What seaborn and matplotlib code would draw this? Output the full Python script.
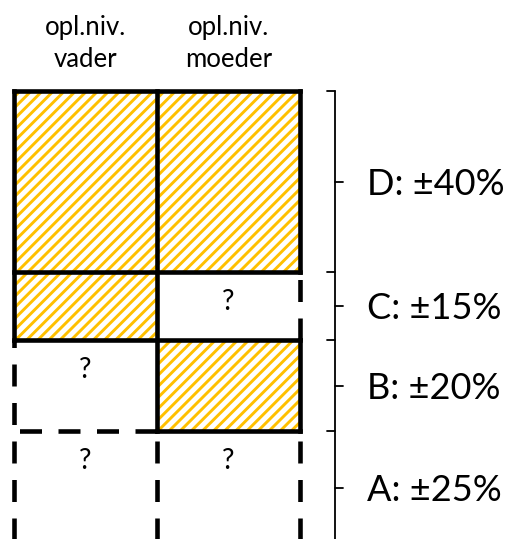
import numpy as np
import pandas as pd
import matplotlib
matplotlib.use("Agg")
import matplotlib.pyplot as plt
import seaborn as sns

# ---- data ----
columns = ["vader", "moeder"]
header_line1 = ["opl.niv.", "opl.niv."]
levels = ["D", "C", "B", "A"]
shares = [40, 15, 20, 25]
known_vader = [1, 1, 0, 0]
known_moeder = [1, 0, 1, 0]
unknown_mark = "?"

# ---- style ----
sns.set_theme(style="white")
plt.rcParams["font.family"] = ["Lato", "DejaVu Sans"]
plt.rcParams["hatch.linewidth"] = 2.1

YELLOW = "#FFC000"
LW = 3.3
BRACKET_LW = 1.3
HEADER_FS = 18.5
LABEL_FS = 26
Q_FS = 20

fig = plt.figure(figsize=(5.08, 5.39), dpi=100)
ax = fig.add_axes([0, 0, 1, 1])

tops = np.concatenate([[0], np.cumsum(shares)[:-1]])
known = np.array([known_vader, known_moeder])  # column x level

rows = []
for ci, c in enumerate(columns):
    for li, lv in enumerate(levels):
        rows.append(dict(col=c, level=lv, share=shares[li], top=tops[li], known=known[ci, li]))
df = pd.DataFrame(rows)

# hatched (known) cells drawn as seaborn bars stacked with bottom offsets
for li, lv in enumerate(levels):
    sub = df[(df["level"] == lv) & (df["known"] == 1)]
    if sub.empty:
        continue
    sns.barplot(data=sub, x="col", y="share", order=columns, ax=ax,
                bottom=float(tops[li]), width=1.0, color="white",
                edgecolor=YELLOW, hatch="///", linewidth=0,
                errorbar=None, saturation=1)

# ---- outlines: solid around known cells, dashed around unknown ----
xb = np.arange(len(columns) + 1) - 0.5          # column boundaries
yb = np.concatenate([[0], np.cumsum(shares)])   # level boundaries


def draw_runs(segments, vertical, fixed):
    runs = []
    for s, e, st in segments:
        if st is None:
            runs.append(None)
            continue
        if runs and runs[-1] is not None and runs[-1][2] == st and abs(runs[-1][1] - s) < 1e-9:
            runs[-1] = (runs[-1][0], e, st)
        else:
            runs.append((s, e, st))
    for r in runs:
        if r is None:
            continue
        s, e, st = r
        if st == "solid":
            kw = dict(lw=LW, color="black", solid_capstyle="projecting")
        else:
            s, e = e, s  # draw dashed from bottom/right end
            kw = dict(lw=LW, color="black", linestyle=(0, (4.8, 3.6)),
                      dash_capstyle="butt")
        if vertical:
            ax.plot([fixed, fixed], [s, e], **kw)
        else:
            ax.plot([s, e], [fixed, fixed], **kw)


nlev = len(levels)
ncol = len(columns)
for k in range(ncol + 1):
    segs = []
    for li in range(nlev):
        left = known[k - 1, li] if k > 0 else 0
        right = known[k, li] if k < ncol else 0
        st = "solid" if (left or right) else "dashed"
        segs.append((yb[li], yb[li + 1], st))
    draw_runs(segs, True, xb[k])
for b in range(nlev + 1):
    segs = []
    for ci in range(ncol):
        above = known[ci, b - 1] if b > 0 else 0
        below = known[ci, b] if b < nlev else 0
        st = "solid" if (above or below) else "dashed"
        if b == nlev:
            st = None
        segs.append((xb[ci], xb[ci + 1], st))
    draw_runs(segs, False, yb[b])

# question marks in unknown cells
for ci in range(ncol):
    for li in range(nlev):
        if not known[ci, li]:
            ax.text(ci, tops[li] + 8.3, unknown_mark, ha="center", va="baseline",
                    fontsize=Q_FS, color="black")

# column headers
for ci, c in enumerate(columns):
    ax.text(ci, -12.3, header_line1[ci], ha="center", va="baseline",
            fontsize=HEADER_FS, color="black")
    ax.text(ci, -5.4, c, ha="center", va="baseline",
            fontsize=HEADER_FS, color="black")

# ---- bracket on the right ----
PX_PER_UNIT_X = 143.0
PX_PER_PCT = 4.533
bx = xb[-1] + 35 / PX_PER_UNIT_X
tick = 8 / PX_PER_UNIT_X
ax.plot([bx, bx], [yb[0], yb[-1]], color="black", lw=BRACKET_LW)
for li in range(nlev):
    ax.plot([bx - tick, bx], [yb[li], yb[li]], color="black", lw=BRACKET_LW)
    mid = tops[li] + shares[li] / 2
    ax.plot([bx, bx + tick], [mid, mid], color="black", lw=BRACKET_LW)
    cap_half = 0.7165 * LABEL_FS * 100 / 72 / 2 / PX_PER_PCT
    ax.text(xb[-1] + 67 / PX_PER_UNIT_X, mid + cap_half, f"{levels[li]}: ±{shares[li]}%",
            ha="left", va="baseline", fontsize=LABEL_FS, color="black")

# ---- frame ----
ax.set_xlim(-0.5 - 14 / PX_PER_UNIT_X, -0.5 + 494 / PX_PER_UNIT_X)
ax.set_ylim((539 - 91) / PX_PER_PCT, -91 / PX_PER_PCT)
ax.set_axis_off()

fig.savefig("out.png", dpi=100)
